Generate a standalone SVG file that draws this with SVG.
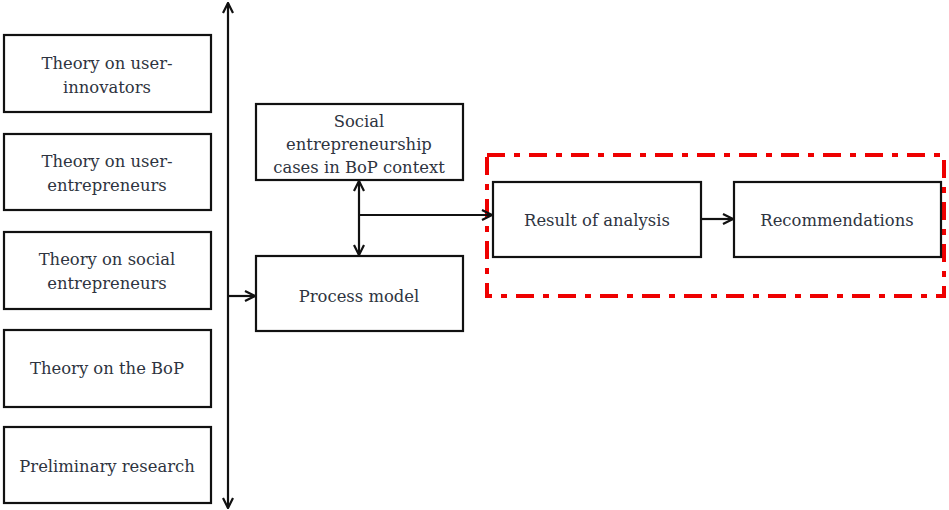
<svg xmlns="http://www.w3.org/2000/svg" width="949" height="510" viewBox="0 0 949 510">
<style>
.box{fill:#fff;stroke:#111;stroke-width:2.2}
.t{font-family:"DejaVu Serif","Liberation Serif",serif;font-size:16.4px;fill:#2e3440;text-anchor:middle}
.c{fill:none;stroke:#111;stroke-width:2.2}
</style>
<defs>
<marker id="ah" viewBox="0 0 12 12" refX="11" refY="6" markerWidth="12" markerHeight="12" markerUnits="userSpaceOnUse" orient="auto-start-reverse">
<path d="M1,1 L11,6 L1,11" fill="none" stroke="#111" stroke-width="2.2"/>
</marker>
</defs>
<rect width="949" height="510" fill="#fff"/>
<g id="region">
<rect x="487" y="155" width="457" height="141" fill="none" stroke="#ee0000" stroke-width="4" stroke-dasharray="18,9,6,9"/>
</g>
<g id="connectors">
<line class="c" x1="228" y1="3" x2="228" y2="508" marker-start="url(#ah)" marker-end="url(#ah)"/>
<line class="c" x1="228" y1="296" x2="255" y2="296" marker-end="url(#ah)"/>
<line class="c" x1="359" y1="181" x2="359" y2="255" marker-start="url(#ah)" marker-end="url(#ah)"/>
<line class="c" x1="359" y1="215" x2="492" y2="215" marker-end="url(#ah)"/>
<line class="c" x1="701" y1="219" x2="733" y2="219" marker-end="url(#ah)"/>
</g>
<g id="n1"><rect class="box" x="4" y="35" width="207" height="77"/><text class="t" x="107" y="69">Theory on user-</text><text class="t" x="107" y="93">innovators</text></g>
<g id="n2"><rect class="box" x="4" y="134" width="207" height="76"/><text class="t" x="107" y="167">Theory on user-</text><text class="t" x="107" y="191">entrepreneurs</text></g>
<g id="n3"><rect class="box" x="4" y="232" width="207" height="77"/><text class="t" x="107" y="265">Theory on social</text><text class="t" x="107" y="289">entrepreneurs</text></g>
<g id="n4"><rect class="box" x="4" y="330" width="207" height="77"/><text class="t" x="107" y="374">Theory on the BoP</text></g>
<g id="n5"><rect class="box" x="4" y="427" width="207" height="76"/><text class="t" x="107" y="472">Preliminary research</text></g>
<g id="n6"><rect class="box" x="256" y="104" width="207" height="76"/><text class="t" x="359" y="127">Social</text><text class="t" x="359" y="150">entrepreneurship</text><text class="t" x="359" y="173">cases in BoP context</text></g>
<g id="n7"><rect class="box" x="256" y="256" width="207" height="75"/><text class="t" x="359" y="302">Process model</text></g>
<g id="n8"><rect class="box" x="493" y="182" width="208" height="75"/><text class="t" x="597" y="226">Result of analysis</text></g>
<g id="n9"><rect class="box" x="734" y="182" width="207" height="75"/><text class="t" x="837" y="226">Recommendations</text></g>
</svg>
